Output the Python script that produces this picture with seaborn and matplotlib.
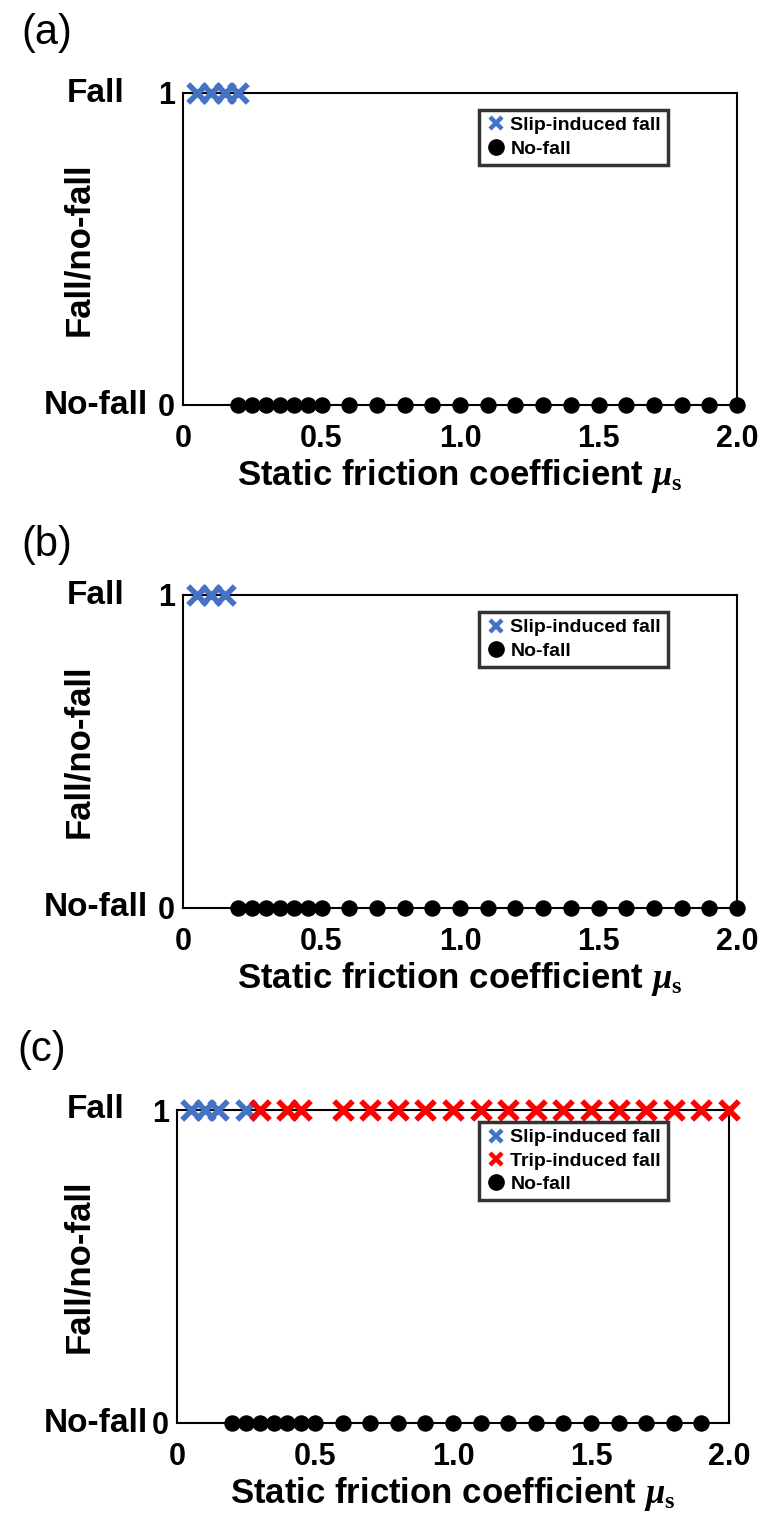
import numpy as np
import pandas as pd
import matplotlib
matplotlib.use("Agg")
import matplotlib.pyplot as plt
import matplotlib.transforms as mtransforms
from matplotlib.lines import Line2D
import seaborn as sns

# ---------------- data ----------------
a_slip = [0.05, 0.10, 0.15, 0.20]
a_nofall = [0.20, 0.25, 0.30, 0.35, 0.40, 0.45, 0.50, 0.6, 0.7, 0.8, 0.9, 1.0,
            1.1, 1.2, 1.3, 1.4, 1.5, 1.6, 1.7, 1.8, 1.9, 2.0]
b_slip = [0.05, 0.10, 0.15]
b_nofall = [0.20, 0.25, 0.30, 0.35, 0.40, 0.45, 0.50, 0.6, 0.7, 0.8, 0.9, 1.0,
            1.1, 1.2, 1.3, 1.4, 1.5, 1.6, 1.7, 1.8, 1.9, 2.0]
c_slip = [0.05, 0.10, 0.15, 0.25]
c_trip = [0.30, 0.40, 0.45, 0.6, 0.7, 0.8, 0.9, 1.0, 1.1, 1.2, 1.3, 1.4, 1.5,
          1.6, 1.7, 1.8, 1.9, 2.0]
c_nofall = [0.20, 0.25, 0.30, 0.35, 0.40, 0.45, 0.50, 0.6, 0.7, 0.8, 0.9, 1.0,
            1.1, 1.2, 1.3, 1.4, 1.5, 1.6, 1.7, 1.8, 1.9]

x_ticks = [0, 0.5, 1.0, 1.5, 2.0]
x_ticklabels = ["0", "0.5", "1.0", "1.5", "2.0"]
y_ticklabels = ["0", "1"]
y_names = ["No-fall", "Fall"]
panel_labels = ["(a)", "(b)", "(c)"]

BLUE = "#4472C4"
RED = "#FF0000"

sns.set_theme(style="white")
plt.rcParams["font.family"] = ["Liberation Sans", "DejaVu Sans"]
plt.rcParams["text.color"] = "black"
plt.rcParams["axes.labelcolor"] = "black"
plt.rcParams["xtick.color"] = "black"
plt.rcParams["ytick.color"] = "black"
plt.rcParams["mathtext.fontset"] = "custom"
plt.rcParams["mathtext.it"] = "Liberation Serif:italic:bold"
plt.rcParams["mathtext.rm"] = "Liberation Serif:bold"
plt.rcParams["mathtext.bf"] = "Liberation Serif:bold"

W, H = 758, 1526
fig = plt.figure(figsize=(W / 100, H / 100), dpi=100)

# axes boxes in pixels: left, top, right, bottom
boxes = [(183, 93, 737, 405), (183, 595, 737, 908), (177, 1110, 729, 1423)]
label_pos = [(47, 33), (47, 545), (42, 1050)]
legend_anchor = [(0.875, 0.946), (0.875, 0.946), (0.889, 0.962)]

panels = [
    [(a_slip, 1, BLUE, "x", "Slip-induced fall"), (a_nofall, 0, "black", "o", "No-fall")],
    [(b_slip, 1, BLUE, "x", "Slip-induced fall"), (b_nofall, 0, "black", "o", "No-fall")],
    [(c_slip, 1, BLUE, "x", "Slip-induced fall"), (c_trip, 1, RED, "x", "Trip-induced fall"),
     (c_nofall, 0, "black", "o", "No-fall")],
]

for i, (box, series) in enumerate(zip(boxes, panels)):
    l, t, r, b = box
    ax = fig.add_axes([l / W, 1 - b / H, (r - l) / W, (b - t) / H])
    handles = []
    for xs, yv, col, mk, lab in series:
        df = pd.DataFrame({"mu": xs, "fall": [yv] * len(xs)})
        if mk == "x":
            sns.scatterplot(data=df, x="mu", y="fall", ax=ax, marker="x", color=col,
                            s=180, linewidth=4.0, clip_on=False, zorder=5)
            handles.append(Line2D([], [], ls="none", marker="x", color=col,
                                  markersize=9, mew=3.2, label=lab))
        else:
            sns.scatterplot(data=df, x="mu", y="fall", ax=ax, marker="o", color=col,
                            s=140, linewidth=0, clip_on=False, zorder=5)
            handles.append(Line2D([], [], ls="none", marker="o", color=col,
                                  markersize=11, label=lab))
    ax.set_xlim(0, 2.0)
    ax.set_ylim(0, 1)
    ax.set_xticks(x_ticks)
    ax.set_xticklabels(x_ticklabels, fontsize=22, fontweight="bold")
    ax.set_yticks([0, 1])
    ax.set_yticklabels(y_ticklabels, fontsize=22, fontweight="bold")
    ax.tick_params(axis="both", length=0)
    ax.tick_params(axis="x", pad=14)
    ax.tick_params(axis="y", pad=6)
    for sp in ax.spines.values():
        sp.set_visible(True)
        sp.set_color("black")
        sp.set_linewidth(1.5)
    ax.set_xlabel(r"Static friction coefficient $\mu_\mathrm{s}$", fontsize=25,
                  fontweight="bold", labelpad=2)
    ax.set_ylabel("Fall/no-fall", fontsize=25, fontweight="bold")
    ax.yaxis.set_label_coords((95 - l) / (r - l), 0.5)
    trans = mtransforms.blended_transform_factory(fig.transFigure, ax.transData)
    for yv, name in zip([0, 1], y_names):
        ax.text(96 / W, yv, name, transform=trans, ha="center", va="center",
                fontsize=24, fontweight="bold")
    leg = ax.legend(handles=handles, loc="upper right", bbox_to_anchor=legend_anchor[i],
                    frameon=True, fancybox=False, prop={"weight": "bold", "size": 14},
                    handletextpad=0.25, handlelength=1.0, borderpad=0.35, labelspacing=0.3,
                    borderaxespad=0)
    leg.get_frame().set_edgecolor("black")
    leg.get_frame().set_linewidth(2.5)
    fig.text(label_pos[i][0] / W, 1 - label_pos[i][1] / H, panel_labels[i],
             ha="center", va="center", fontsize=30)

fig.savefig("out.png", dpi=100)
